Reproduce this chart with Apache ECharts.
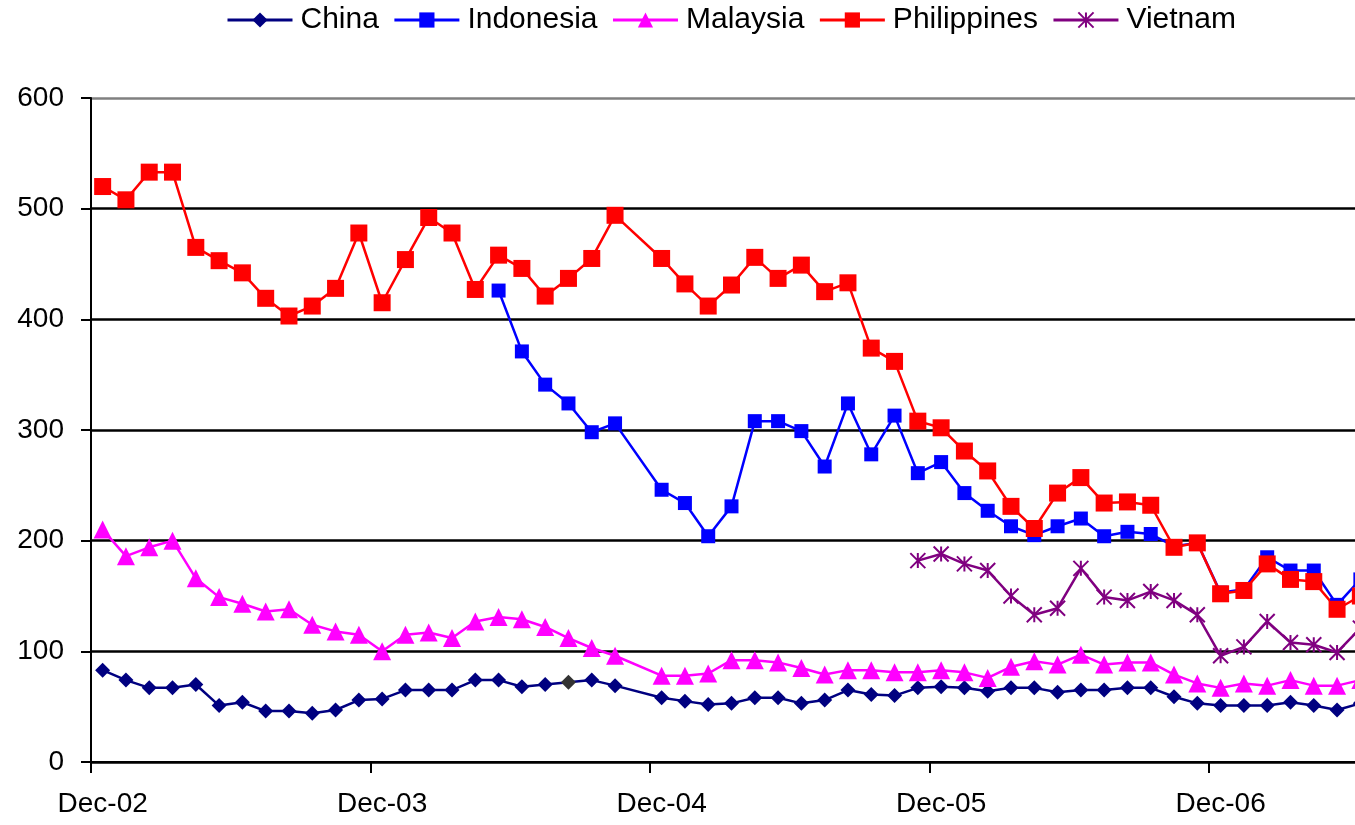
<!DOCTYPE html>
<html>
<head>
<meta charset="utf-8">
<script src="https://cdn.jsdelivr.net/npm/echarts@6/dist/echarts.min.js"></script>
<style>
  html, body { margin: 0; padding: 0; background: #ffffff; overflow: hidden; }
  /* the plot runs a little past the right edge of the window */
  #chart { width: 1372px; height: 825px; }
</style>
</head>
<body>
<div id="chart"></div>
<script>
// Monthly categories, Dec-02 through Jun-07
const months = [
  'Dec-02','Jan-03','Feb-03','Mar-03','Apr-03','May-03','Jun-03','Jul-03','Aug-03','Sep-03','Oct-03','Nov-03',
  'Dec-03','Jan-04','Feb-04','Mar-04','Apr-04','May-04','Jun-04','Jul-04','Aug-04','Sep-04','Oct-04','Nov-04',
  'Dec-04','Jan-05','Feb-05','Mar-05','Apr-05','May-05','Jun-05','Jul-05','Aug-05','Sep-05','Oct-05','Nov-05',
  'Dec-05','Jan-06','Feb-06','Mar-06','Apr-06','May-06','Jun-06','Jul-06','Aug-06','Sep-06','Oct-06','Nov-06',
  'Dec-06','Jan-07','Feb-07','Mar-07','Apr-07','May-07','Jun-07'
];

const yTicks = [0, 100, 200, 300, 400, 500, 600];

const china = [
  83, 74, 67, 67, 70, 51, 54, 46, 46, 44, 47, 56,
  57, 65, 65, 65, 74, 74, 68, 70, 72, 74, 69, null,
  58, 55, 52, 53, 58, 58, 53, 56, 65, 61, 60, 67,
  68, 67, 64, 67, 67, 63, 65, 65, 67, 67, 59, 53,
  51, 51, 51, 54, 51, 47, 53
];

const indonesia = [
  null, null, null, null, null, null, null, null, null, null, null, null,
  null, null, null, null, null, 426, 371, 341, 324, 298, 306, null,
  246, 234, 204, 231, 308, 308, 299, 267, 324, 278, 313, 261,
  271, 243, 227, 213, 205, 213, 220, 204, 208, 206, 195, 198,
  153, 156, 185, 173, 173, 142, 165
];

const malaysia = [
  210, 186, 194, 200, 166, 149, 143, 136, 138, 124, 118, 115,
  100, 115, 117, 112, 127, 131, 129, 122, 112, 103, 96, null,
  78, 78, 80, 92, 92, 90, 85, 79, 83, 83, 81, 81,
  83, 81, 76, 86, 91, 88, 97, 88, 90, 90, 79, 71,
  67, 71, 69, 74, 69, 69, 74
];

const philippines = [
  520, 508, 533, 533, 465, 453, 442, 419, 403, 412, 428, 478,
  415, 454, 492, 478, 427, 458, 446, 421, 437, 455, 494, null,
  455, 432, 412, 431, 456, 437, 449, 425, 433, 374, 362, 308,
  302, 281, 263, 231, 211, 243, 257, 234, 235, 232, 194, 198,
  152, 155, 179, 165, 163, 138, 150
];

const vietnam = [
  null, null, null, null, null, null, null, null, null, null, null, null,
  null, null, null, null, null, null, null, null, null, null, null, null,
  null, null, null, null, null, null, null, null, null, null, null, 182,
  188, 179, 173, 150, 133, 139, 175, 149, 146, 154, 146, 133,
  96, 104, 127, 108, 106, 99, 121
];

// one China marker is drawn in dark grey
const chinaGreyIndex = 20;

const FONT = "'Liberation Sans', Arial, sans-serif";
const ASTERISK = 'path://M10,0L10,20M0,0L20,20M0,20L20,0';

function lineSeries(name, data, color, symbol, size, extra) {
  return Object.assign({
    name: name,
    type: 'line',
    data: data,
    connectNulls: true,
    symbol: symbol,
    symbolSize: size,
    showAllSymbol: true,
    clip: false,
    animation: false,
    lineStyle: { color: color, width: 2.5 },
    itemStyle: { color: color },
    emphasis: { disabled: true }
  }, extra || {});
}

const chinaData = china.map((v, i) =>
  i === chinaGreyIndex ? { value: v, itemStyle: { color: '#333333' } } : v);

const chart = echarts.init(document.getElementById('chart'), null, { renderer: 'canvas' });

chart.setOption({
  backgroundColor: '#ffffff',
  animation: false,
  legend: {
    left: 226,
    top: 5,
    padding: 0,
    itemWidth: 65,
    itemHeight: 19,
    itemGap: 14,
    lineStyle: { width: 3 },
    textStyle: { fontFamily: FONT, fontSize: 30, color: '#000000', padding: [0, 0, 0, 3] },
    data: ['China', 'Indonesia', 'Malaysia', 'Philippines', 'Vietnam']
  },
  grid: {
    left: 91,
    top: 98,
    bottom: 63,
    right: 0,
    containLabel: false
  },
  xAxis: {
    type: 'category',
    data: months,
    boundaryGap: true,
    axisLine: { lineStyle: { color: '#000000', width: 2 } },
    axisTick: { show: true, interval: 11, length: 11, lineStyle: { color: '#000000', width: 2 } },
    axisLabel: {
      interval: 11,
      margin: 28,
      fontFamily: FONT,
      fontSize: 28,
      color: '#000000'
    },
    splitLine: { show: false }
  },
  yAxis: {
    type: 'value',
    min: yTicks[0],
    max: yTicks[yTicks.length - 1],
    interval: 100,
    axisLine: { show: true, lineStyle: { color: '#000000', width: 2 } },
    axisTick: { show: true, length: 10, lineStyle: { color: '#000000', width: 2 } },
    axisLabel: {
      margin: 27,
      fontFamily: FONT,
      fontSize: 28,
      color: '#000000'
    },
    splitLine: {
      show: true,
      lineStyle: {
        color: ['#000000', '#000000', '#000000', '#000000', '#000000', '#000000', '#808080'],
        width: 2.5
      }
    }
  },
  series: [
    lineSeries('China', chinaData, '#000080', 'diamond', 15),
    lineSeries('Indonesia', indonesia, '#0000FF', 'rect', 14),
    lineSeries('Malaysia', malaysia, '#FF00FF', 'triangle', 18),
    lineSeries('Philippines', philippines, '#FF0000', 'rect', 17),
    lineSeries('Vietnam', vietnam, '#800080', ASTERISK, 15, {
      itemStyle: { color: '#800080', borderColor: '#800080', borderWidth: 2 }
    })
  ]
});
</script>
</body>
</html>
